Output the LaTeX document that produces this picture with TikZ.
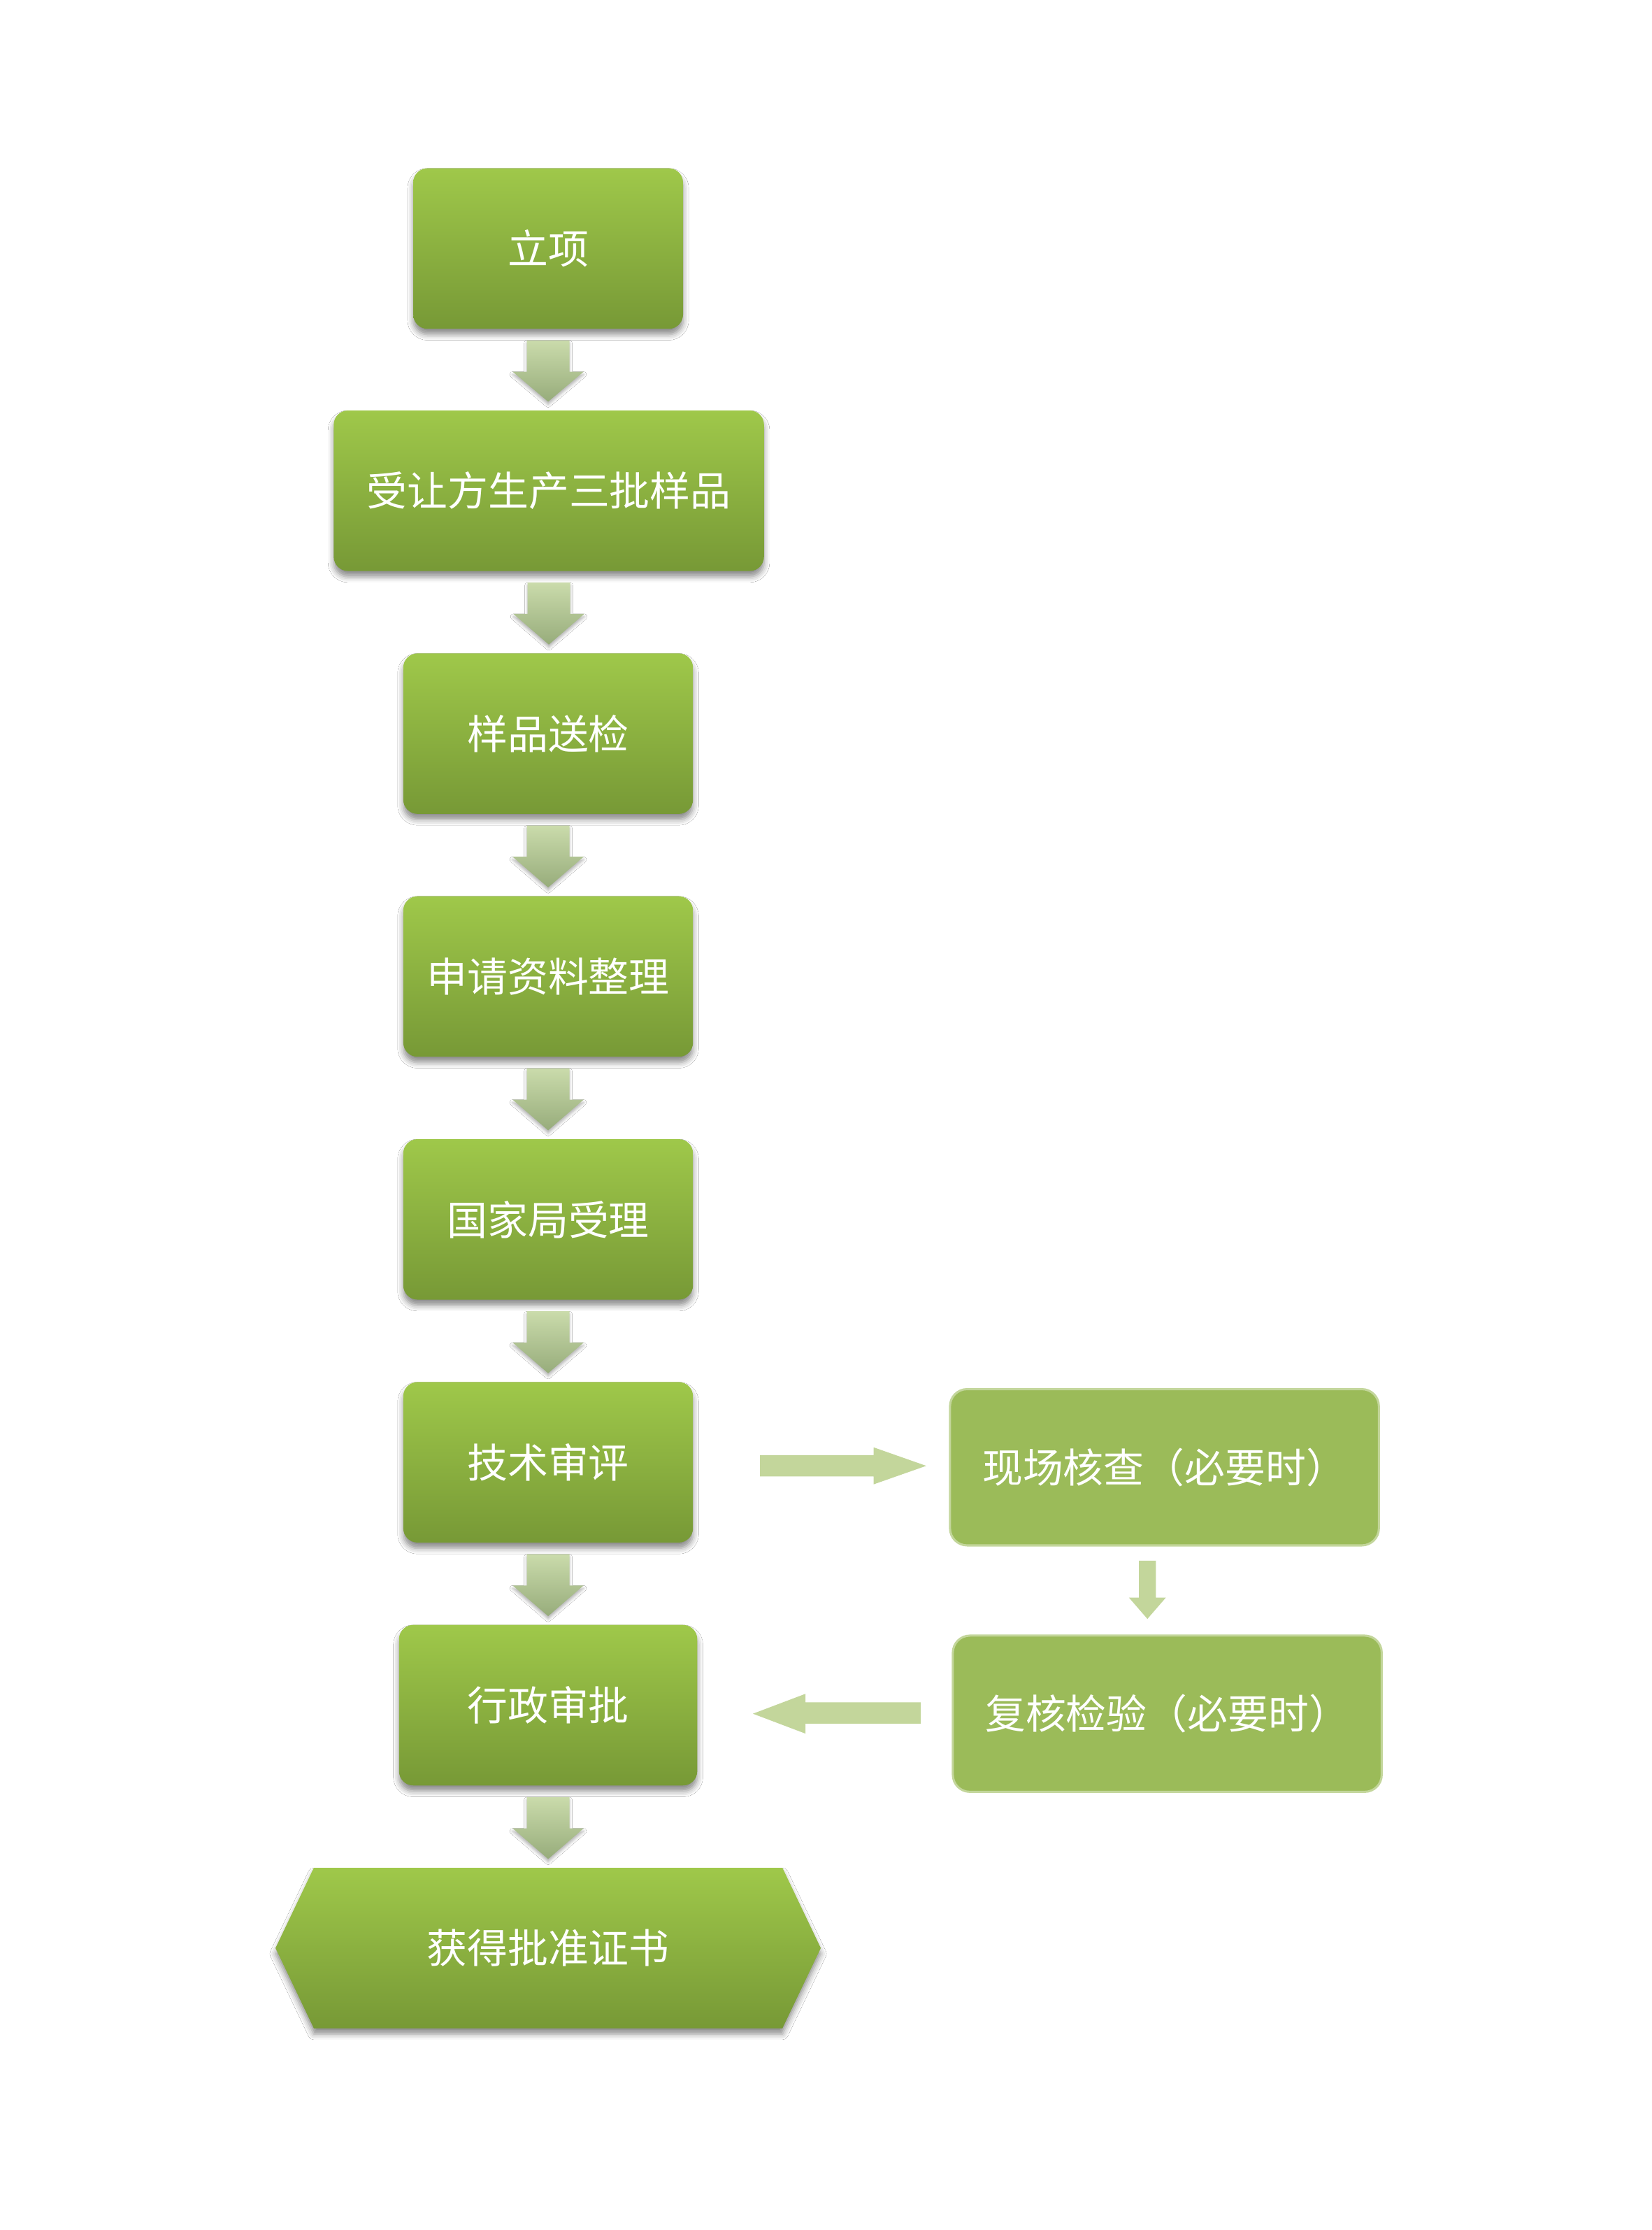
\documentclass[tikz,border=0pt]{standalone}
\usepackage{fontspec}
\newfontfamily\cjk{Noto Sans CJK SC}
\usetikzlibrary{calc,shadows.blur}
\definecolor{gtop}{HTML}{9FC84A}
\definecolor{gbot}{HTML}{779936}
\definecolor{flat}{HTML}{9BBB59}
\definecolor{flatb}{HTML}{C3D69B}
\definecolor{arr}{HTML}{C3D69B}
\definecolor{atop}{HTML}{CADBAB}
\definecolor{abot}{HTML}{97AC7B}
\tikzset{
  txt/.style={text=white,font=\cjk\fontsize{28.5}{33}\selectfont},
  gbox/.style={txt,rectangle,rounded corners=10pt,top color=gtop,bottom color=gbot,
    minimum height=113pt,inner sep=0pt,
    blur shadow={shadow xshift=0pt,shadow yshift=-4pt,shadow blur radius=4pt,shadow opacity=45}},
  fbox/.style={txt,rectangle,rounded corners=12pt,fill=flat,draw=flatb,line width=1.5pt,
    minimum width=302pt,minimum height=110pt,inner sep=0pt},
  vblk/.style={top color=atop,bottom color=abot,
    blur shadow={shadow xshift=0pt,shadow yshift=-2pt,shadow blur radius=2pt,shadow opacity=30}},
  hblk/.style={fill=arr},
  hexfill/.style={top color=gtop,bottom color=gbot,
    blur shadow={shadow xshift=0pt,shadow yshift=-4pt,shadow blur radius=4pt,shadow opacity=45}}
}
\newcommand\downblk[2]{%
  \path[vblk] let \p1=(#1.south), \p2=(#2.north) in
    (\x1-15,\y1-8) -- (\x1+15,\y1-8) -- (\x1+15,\y1-30) -- (\x1+25,\y1-30)
    -- (\x1,\y2+6) -- (\x1-25,\y1-30) -- (\x1-15,\y1-30) -- cycle;}
\begin{document}
\begin{tikzpicture}[x=1pt,y=1pt]
\useasboundingbox[fill=white] (0,0) rectangle (1163,-1570);
% main column
\node[gbox,minimum width=190pt] (n1) at (386,-175) {立项};
\node[gbox,minimum width=303pt] (n2) at (386.5,-345.5) {受让方生产三批样品};
\node[gbox,minimum width=204pt] (n3) at (386,-516.5) {样品送检};
\node[gbox,minimum width=204pt] (n4) at (386,-687.5) {申请资料整理};
\node[gbox,minimum width=204pt] (n5) at (386,-858.5) {国家局受理};
\node[gbox,minimum width=204pt] (n6) at (386,-1029.5) {技术审评};
\node[gbox,minimum width=210pt] (n7) at (386,-1200.5) {行政审批};
% hexagon
\coordinate (c8) at (386,-1371.5);
\path[hexfill] ($(c8)+(-192,0)$) -- ($(c8)+(-165,56.5)$) -- ($(c8)+(165,56.5)$)
  -- ($(c8)+(192,0)$) -- ($(c8)+(165,-56.5)$) -- ($(c8)+(-165,-56.5)$) -- cycle;
\node[txt,minimum width=330pt,minimum height=113pt,inner sep=0pt] (n8) at (c8) {获得批准证书};
% right column
\node[fbox] (r1) at (820,-1033) {现场核查（必要时）};
\node[fbox] (r2) at (822,-1206.5) {复核检验（必要时）};
% vertical arrows
\downblk{n1}{n2}
\downblk{n2}{n3}
\downblk{n3}{n4}
\downblk{n4}{n5}
\downblk{n5}{n6}
\downblk{n6}{n7}
\downblk{n7}{n8}
% right arrow n6 -> r1
\path[hblk] let \p1=(n6.east), \p2=(r1.west) in
  (\x1+47,\y2+8.5) -- (\x2-53,\y2+8.5) -- (\x2-53,\y2+14) -- (\x2-16,\y2+1)
  -- (\x2-53,\y2-12) -- (\x2-53,\y2-6.5) -- (\x1+47,\y2-6.5) -- cycle;
% down arrow r1 -> r2
\path[hblk] let \p1=(r1.south), \p2=(r2.north) in
  (\x1-18,\y1-10) -- (\x1-6,\y1-10) -- (\x1-6,\y1-36) -- (\x1+1,\y1-36)
  -- (\x1-12,\y2+11) -- (\x1-25,\y1-36) -- (\x1-18,\y1-36) -- cycle;
% left arrow r2 -> n7
\path[hblk] let \p1=(r2.west), \p2=(n7.east) in
  (\x1-22,\y1+8) -- (\x2+76,\y1+8) -- (\x2+76,\y1+14) -- (\x2+39,\y1)
  -- (\x2+76,\y1-14) -- (\x2+76,\y1-7) -- (\x1-22,\y1-7) -- cycle;
\end{tikzpicture}
\end{document}
